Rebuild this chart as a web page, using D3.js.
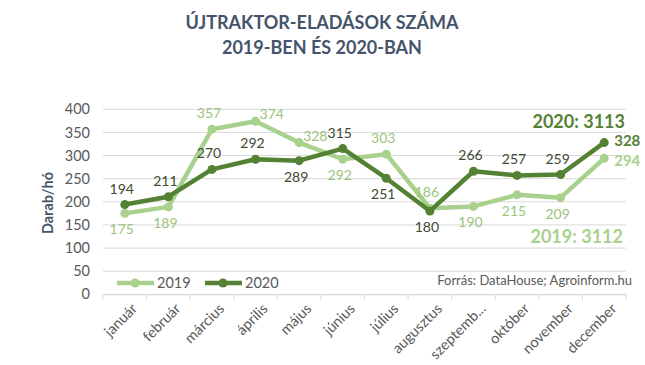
<!DOCTYPE html>
<html><head><meta charset="utf-8">
<script src="https://cdn.jsdelivr.net/npm/d3@7"></script>
<style>
html,body{margin:0;padding:0;background:#fff;}
svg{display:block;font-family:Lato,"Open Sans",sans-serif;}
</style></head>
<body>
<svg id="chart" width="645" height="365"></svg>
<script>
const months = ["január","február","március","április","május","június","július","augusztus","szeptemb...","október","november","december"];
const values2019 = [175,189,357,374,328,292,303,186,190,215,209,294];
const values2020 = [194,211,270,292,289,315,251,180,266,257,259,328];
const yTicks = [0,50,100,150,200,250,300,350,400];
const titleLines = ["ÚJTRAKTOR-ELADÁSOK SZÁMA","2019-BEN ÉS 2020-BAN"];
const total2019 = "2019: 3112";
const total2020 = "2020: 3113";
const sourceText = "Forrás: DataHouse; Agroinform.hu";

// label placement (a = above, b = below, r = right, ar = above-right)
const side2019 = ["b","b","a","ar","ar","b","a","a","b","b","b","r"];
const side2020 = ["a","a","a","a","b","a","b","b","a","a","a","r"];

const c2019 = "#a9d18e", c2020 = "#548235";
const svg = d3.select("#chart");
const x = d3.scaleBand().domain(months).range([103, 626]);
const y = d3.scaleLinear().domain([0,400]).range([294.3, 109.3]);

// title
svg.append("g").selectAll("text").data(titleLines).join("text")
  .attr("x", 322).attr("y", (d,i)=>29 + i*25)
  .attr("text-anchor","middle").attr("font-size",18).attr("font-weight","bold")
  .attr("fill","#44546a").text(d=>d);

// gridlines
svg.append("g").selectAll("line").data(yTicks).join("line")
  .attr("x1",103).attr("x2",626).attr("y1",d=>y(d)).attr("y2",d=>y(d))
  .attr("stroke","#d9d9d9").attr("stroke-width",1);

// y axis labels
const yAxis = d3.axisLeft(y).tickValues(yTicks).tickSize(0).tickPadding(13);
const yg = svg.append("g").attr("transform","translate(103,0)").call(yAxis);
yg.select(".domain").remove();
yg.selectAll("text").attr("font-family","Lato,sans-serif").attr("font-size",14.5).attr("fill","#595959");

svg.append("text").attr("transform","translate(53,203) rotate(-90)")
  .attr("text-anchor","middle").attr("font-size",14.5).attr("font-weight","bold")
  .attr("fill","#44546a").text("Darab/hó");

// x axis
const xAxis = d3.axisBottom(x).tickSize(0).tickPadding(10);
const xg = svg.append("g").attr("transform","translate(0,294.3)").call(xAxis);
xg.select(".domain").attr("stroke","#d9d9d9");
xg.selectAll("text").attr("font-family","Lato,sans-serif").attr("font-size",14.5).attr("fill","#595959")
  .attr("text-anchor","end").attr("transform","rotate(-45)").attr("dx","-0.1em").attr("dy","0.7em");
// band boundary ticks
const bounds = months.map(m=>x(m)).concat([x.range()[1]]);
svg.append("g").selectAll("line").data(bounds).join("line")
  .attr("x1",d=>d).attr("x2",d=>d).attr("y1",294.3).attr("y2",300)
  .attr("stroke","#d9d9d9");

const cx = m => x(m) + x.bandwidth()/2;
const line = d3.line().x((d,i)=>cx(months[i])).y(d=>y(d));

function drawSeries(vals, color, labelColor, sides, rDy) {
  const g = svg.append("g");
  g.append("path").datum(vals).attr("d", line).attr("fill","none")
    .attr("stroke", color).attr("stroke-width",4.5).attr("stroke-linejoin","round");
  g.selectAll("circle").data(vals).join("circle")
    .attr("cx",(d,i)=>cx(months[i])).attr("cy",d=>y(d)).attr("r",4.5).attr("fill",color);
  g.selectAll("text").data(vals).join("text")
    .attr("x",(d,i)=>{
      const s = sides[i];
      if (s==="r") return cx(months[i])+10;
      if (s==="ar") return cx(months[i])+4;
      return cx(months[i])-3;
    })
    .attr("y",(d,i)=>{
      const s = sides[i];
      if (s==="r") return y(d)+rDy;
      if (s==="a") return y(d)-11;
      if (s==="ar") return y(d)-2;
      return y(d)+21;
    })
    .attr("text-anchor",(d,i)=>sides[i]==="r"||sides[i]==="ar" ? "start" : "middle")
    .attr("font-size",(d,i)=>sides[i]==="r"?15:14)
    .attr("font-weight",(d,i)=>sides[i]==="r"?"bold":"normal")
    .attr("fill",(d,i)=>sides[i]==="r"? color : labelColor)
    .text(d=>d);
}
drawSeries(values2019, c2019, "#9cc47c", side2019, 8);
drawSeries(values2020, c2020, "#3e4a30", side2020, 3);

// totals
svg.append("text").attr("x",625).attr("y",128).attr("text-anchor","end")
  .attr("font-size",18).attr("font-weight","bold").attr("fill",c2020).text(total2020);
svg.append("text").attr("x",623).attr("y",243).attr("text-anchor","end")
  .attr("font-size",18).attr("font-weight","bold").attr("fill",c2019).text(total2019);

// legend
const legend = [{name:"2019",color:c2019,x1:117},{name:"2020",color:c2020,x1:205}];
const lg = svg.append("g").selectAll("g").data(legend).join("g");
lg.append("line").attr("x1",d=>d.x1).attr("x2",d=>d.x1+37).attr("y1",283).attr("y2",283)
  .attr("stroke",d=>d.color).attr("stroke-width",4.5);
lg.append("circle").attr("cx",d=>d.x1+18).attr("cy",283).attr("r",4.5).attr("fill",d=>d.color);
lg.append("text").attr("x",d=>d.x1+40).attr("y",288).attr("font-size",14.5).attr("fill","#595959").text(d=>d.name);

// source
svg.append("text").attr("x",632).attr("y",285).attr("text-anchor","end")
  .attr("font-size",13).attr("fill","#595959").text(sourceText);
</script>
</body></html>
